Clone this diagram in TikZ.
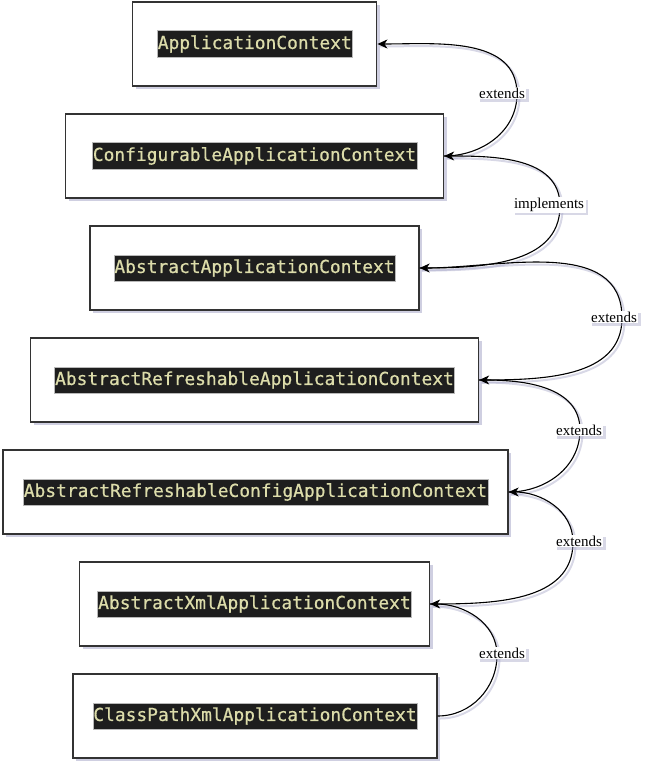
\documentclass[tikz,border=0pt]{standalone}
\usepackage{fontspec}
\setmainfont{Liberation Serif}
\newfontfamily\codefont[FakeBold=0.6]{DejaVu Sans Mono}
\usetikzlibrary{arrows.meta,shadows}
\definecolor{codebg}{HTML}{1E1E1E}
\definecolor{codefg}{HTML}{DCDCAA}
\definecolor{shadowc}{HTML}{A8A8C8}
\tikzset{
  classbox/.style={draw=black!80, line width=1.3pt, fill=white, minimum height=84pt,
    drop shadow={shadow xshift=3pt, shadow yshift=-3pt, fill=shadowc, opacity=0.55}},
  code/.style={fill=codebg, text=codefg, draw=gray!55, line width=0.4pt,
    font=\codefont\fontsize{17.9}{20}\selectfont, inner xsep=0.6pt, inner ysep=0pt,
    minimum height=26.6pt},
  rel/.style={line width=1.1pt, draw=black, -{Stealth[length=10pt,width=9pt,inset=3pt]}},
  relshadow/.style={line width=2pt, draw=shadowc, opacity=0.45,
    transform canvas={shift={(2.5pt,-2.5pt)}}},
  lbl/.style={fill=white, font=\fontsize{15}{17}\selectfont, inner xsep=1.5pt, inner ysep=1pt,
    drop shadow={shadow xshift=2.5pt, shadow yshift=-2.5pt, fill=shadowc, opacity=0.45}}
}
\begin{document}
\begin{tikzpicture}[x=1pt,y=-1pt]
\useasboundingbox (0,0) rectangle (668,770);
% class boxes
\node[classbox, minimum width=244pt] (b1) at (254.8,44) {};
\node[classbox, minimum width=378pt] (b2) at (254.5,156) {};
\node[classbox, minimum width=329pt] (b3) at (254.5,268) {};
\node[classbox, minimum width=448pt] (b4) at (254.5,380) {};
\node[classbox, minimum width=505pt] (b5) at (255.5,492) {};
\node[classbox, minimum width=350pt] (b6) at (254.5,604) {};
\node[classbox, minimum width=364pt] (b7) at (255,716) {};
% class names
\node[code] (t1) at (b1) {ApplicationContext};
\node[code] (t2) at (b2) {ConfigurableApplicationContext};
\node[code] (t3) at (b3) {AbstractApplicationContext};
\node[code] (t4) at (b4) {AbstractRefreshableApplicationContext};
\node[code] (t5) at (b5) {AbstractRefreshableConfigApplicationContext};
\node[code] (t6) at (b6) {AbstractXmlApplicationContext};
\node[code] (t7) at (b7) {ClassPathXmlApplicationContext};
% bend points
\coordinate (m1) at (517,94);
\coordinate (m2) at (560,206);
\coordinate (m3) at (622,318);
\coordinate (m4) at (580,430);
\coordinate (m5) at (573,542);
\coordinate (m6) at (497,655);
% connector shadows
\draw[relshadow] (b2.east) to[out=0,in=-90] (m1) to[out=90,in=0] (b1.east);
\draw[relshadow] (b3.east) to[out=0,in=-90] (m2) to[out=90,in=0] (b2.east);
\draw[relshadow] (b4.east) to[out=0,in=-90] (m3) to[out=90,in=0] (b3.east);
\draw[relshadow] (b5.east) to[out=0,in=-90] (m4) to[out=90,in=0] (b4.east);
\draw[relshadow] (b6.east) to[out=0,in=-90] (m5) to[out=90,in=0] (b5.east);
\draw[relshadow] (b7.east) to[out=0,in=-90] (m6) to[out=90,in=0] (b6.east);
% connectors
\draw[rel] (b2.east) to[out=0,in=-90] (m1) to[out=90,in=0] (b1.east);
\draw[rel] (b3.east) to[out=0,in=-90] (m2) to[out=90,in=0] (b2.east);
\draw[rel] (b4.east) to[out=0,in=-90] (m3) to[out=90,in=0] (b3.east);
\draw[rel] (b5.east) to[out=0,in=-90] (m4) to[out=90,in=0] (b4.east);
\draw[rel] (b6.east) to[out=0,in=-90] (m5) to[out=90,in=0] (b5.east);
\draw[rel] (b7.east) to[out=0,in=-90] (m6) to[out=90,in=0] (b6.east);
% labels
\node[lbl] (l1) at (502,93) {extends};
\node[lbl] (l2) at (549,205) {implements};
\node[lbl] (l3) at (614,317) {extends};
\node[lbl] (l4) at (579,430) {extends};
\node[lbl] (l5) at (579,541) {extends};
\node[lbl] (l6) at (502,653) {extends};
\end{tikzpicture}
\end{document}
